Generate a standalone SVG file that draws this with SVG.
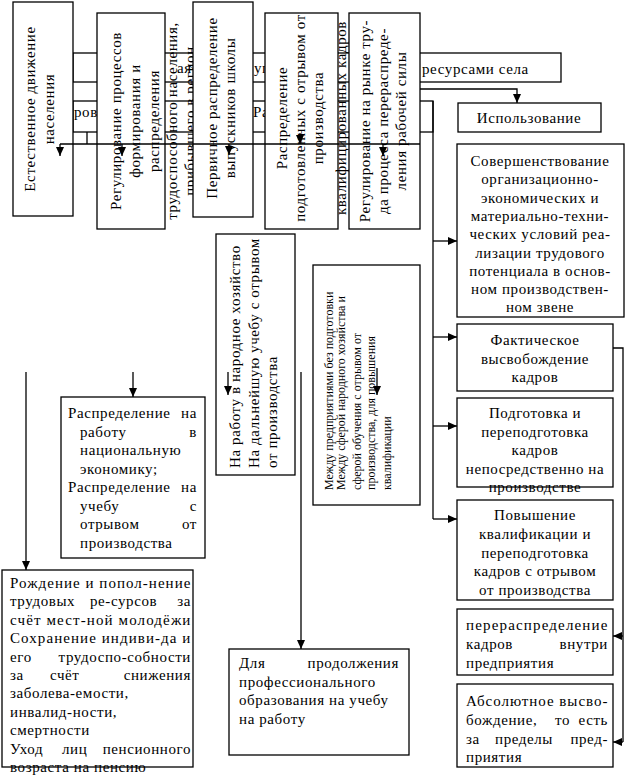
<svg xmlns="http://www.w3.org/2000/svg" width="626" height="779" viewBox="0 0 626 779">
<defs>
<style>
.b{fill:#fff;stroke:#000;stroke-width:1.3}
.t{font-family:"Liberation Serif","Times New Roman",serif;font-size:15px;letter-spacing:0.6px;fill:#000}
.s{font-family:"Liberation Serif","Times New Roman",serif;font-size:12px;fill:#000}
.m{text-anchor:middle}
.e{text-anchor:end}
.ln{fill:none;stroke:#000;stroke-width:1.3}
.a{marker-end:url(#ah)}
</style>
<marker id="ah" markerUnits="userSpaceOnUse" markerWidth="9" markerHeight="8" refX="9" refY="4" orient="auto"><path d="M0,0 L9,4 L0,8 Z" fill="#000"/></marker>
</defs>
<rect width="626" height="779" fill="#fff"/>

<g id="hidden-band-1">
<rect class="b" x="73" y="53" width="488" height="29"/>
<text class="t" x="177" y="73">ая</text>
<text class="t" x="254" y="73">уп</text>
<text class="t" x="422" y="74">ресурсами села</text>
</g>
<g id="hidden-band-2">
<rect class="b" x="73" y="101" width="360" height="31"/>
<text class="t" x="74" y="117">ров</text>
<text class="t" x="253" y="117">Ра</text>
</g>

<g id="n-estestvennoe">
<rect class="b" x="13" y="2" width="60" height="214"/>
<text class="t m" transform="translate(35,109) rotate(-90)">Естественное движение</text>
<text class="t m" transform="translate(54,109) rotate(-90)">населения</text>
</g>
<g id="n-regulirovanie">
<rect class="b" x="97" y="13" width="68" height="216"/>
<text class="t m" transform="translate(121,121) rotate(-90)">Регулирование процессов</text>
<text class="t m" transform="translate(140,121) rotate(-90)">формирования и</text>
<text class="t m" transform="translate(159,121) rotate(-90)">распределения</text>
<text class="t m" transform="translate(177,121) rotate(-90)">трудоспособного населения,</text>
<text class="t m" transform="translate(195,121) rotate(-90)">прибывшего в регион</text>
</g>
<g id="n-pervichnoe">
<rect class="b" x="193" y="2" width="60" height="215"/>
<text class="t m" transform="translate(217,108) rotate(-90)">Первичное распределение</text>
<text class="t m" transform="translate(235,108) rotate(-90)">выпускников школы</text>
</g>
<g id="n-raspredelenie-podg">
<rect class="b" x="265" y="13" width="73" height="216"/>
<text class="t m" transform="translate(287,118) rotate(-90)">Распределение</text>
<text class="t m" transform="translate(305,118) rotate(-90)">подготовленных с отрывом от</text>
<text class="t m" transform="translate(323,118) rotate(-90)">производства</text>
<text class="t m" transform="translate(346,118) rotate(-90)">квалифицированных кадров</text>
</g>
<g id="n-rynok">
<rect class="b" x="349" y="13" width="71" height="216"/>
<text class="t m" transform="translate(370,121) rotate(-90)">Регулирование на рынке тру-</text>
<text class="t m" transform="translate(388,121) rotate(-90)">да процесса перераспреде-</text>
<text class="t m" transform="translate(406,121) rotate(-90)">ления рабочей силы</text>
</g>

<g id="n-ispolzovanie">
<rect class="b" x="458" y="103" width="143" height="29"/>
<text class="t m" x="529" y="123">Использование</text>
</g>
<g id="n-sovershenstvovanie">
<rect class="b" x="457" y="144" width="167" height="173"/>
<text class="t m" x="540" y="166">Совершенствование</text>
<text class="t m" x="540" y="184.3">организационно-</text>
<text class="t m" x="540" y="202.6">экономических и</text>
<text class="t m" x="540" y="220.9">материально-техни-</text>
<text class="t m" x="540" y="239.2">ческих условий реа-</text>
<text class="t m" x="540" y="257.5">лизации трудового</text>
<text class="t m" x="540" y="275.8">потенциала в основ-</text>
<text class="t m" x="540" y="294.1">ном производствен-</text>
<text class="t m" x="540" y="312.4">ном звене</text>
</g>
<g id="n-fakticheskoe">
<rect class="b" x="457" y="324" width="156" height="67"/>
<text class="t m" x="535" y="345">Фактическое</text>
<text class="t m" x="535" y="363.5">высвобождение</text>
<text class="t m" x="535" y="382">кадров</text>
</g>
<g id="n-podgotovka">
<rect class="b" x="457" y="398" width="156" height="89"/>
<text class="t m" x="535" y="418">Подготовка и</text>
<text class="t m" x="535" y="436.5">переподготовка</text>
<text class="t m" x="535" y="455">кадров</text>
<text class="t m" x="535" y="473.5">непосредственно на</text>
<text class="t m" x="535" y="492">производстве</text>
</g>
<g id="n-povyshenie">
<rect class="b" x="457" y="500" width="156" height="100"/>
<text class="t m" x="535" y="520">Повышение</text>
<text class="t m" x="535" y="538.8">квалификации и</text>
<text class="t m" x="535" y="557.6">переподготовка</text>
<text class="t m" x="535" y="576.4">кадров с отрывом</text>
<text class="t m" x="535" y="595.2">от производства</text>
</g>
<g id="n-pereraspredelenie">
<rect class="b" x="457" y="609" width="156" height="66"/>
<text class="t" x="466" y="630" textLength="142" lengthAdjust="spacing">перераспределение</text>
<text class="t" x="466" y="649">кадров</text>
<text class="t e" x="608" y="649">внутри</text>
<text class="t" x="466" y="668">предприятия</text>
</g>
<g id="n-absolyutnoe">
<rect class="b" x="457" y="684" width="156" height="83"/>
<text class="t" x="466" y="706" textLength="142" lengthAdjust="spacing">Абсолютное высво-</text>
<text class="t" x="466" y="725">бождение,</text>
<text class="t" x="555" y="725">то</text>
<text class="t e" x="608" y="725">есть</text>
<text class="t" x="466" y="744">за</text>
<text class="t" x="495" y="744">пределы</text>
<text class="t e" x="608" y="744">пред-</text>
<text class="t" x="466" y="762">приятия</text>
</g>

<g id="n-na-rabotu">
<rect class="b" x="216" y="234" width="79" height="241"/>
<text class="t" transform="translate(240,468) rotate(-90)">На работу в народное хозяйство</text>
<text class="t" transform="translate(259,468) rotate(-90)">На дальнейшую учебу с отрывом</text>
<text class="t" transform="translate(277,468) rotate(-90)">от производства</text>
</g>
<g id="n-mezhdu">
<rect class="b" x="313" y="265" width="107" height="240"/>
<text class="s" transform="translate(333,490) rotate(-90)">Между предприятиями без подготовки</text>
<text class="s" transform="translate(345,490) rotate(-90)">Между сферой народного хозяйства и</text>
<text class="s" transform="translate(361,490) rotate(-90)">сферой обучения с отрывом от</text>
<text class="s" transform="translate(375,490) rotate(-90)">производства, для повышения</text>
<text class="s" transform="translate(391,490) rotate(-90)">квалификации</text>
</g>
<g id="n-raspredelenie-rabota">
<rect class="b" x="61" y="397" width="144" height="161"/>
<text class="t" x="68" y="418">Распределение</text><text class="t e" x="197" y="418">на</text>
<text class="t" x="80" y="436.5">работу</text><text class="t e" x="197" y="436.5">в</text>
<text class="t" x="80" y="455">национальную</text>
<text class="t" x="80" y="473.5">экономику;</text>
<text class="t" x="68" y="492">Распределение</text><text class="t e" x="197" y="492">на</text>
<text class="t" x="80" y="510.5">учебу</text><text class="t e" x="197" y="510.5">с</text>
<text class="t" x="80" y="529">отрывом</text><text class="t e" x="197" y="529">от</text>
<text class="t" x="80" y="547.5">производства</text>
</g>
<g id="n-rozhdenie">
<rect class="b" x="2" y="570" width="191" height="197"/>
<text class="t" x="10" y="588" textLength="181" lengthAdjust="spacing">Рождение и попол-нение</text>
<text class="t" x="10" y="606.4">трудовых</text><text class="t" x="90" y="606.4">ре-сурсов</text><text class="t e" x="191" y="606.4">за</text>
<text class="t" x="10" y="624.8" textLength="181" lengthAdjust="spacing">счёт мест-ной молодёжи</text>
<text class="t" x="10" y="643.2" textLength="181" lengthAdjust="spacing">Сохранение индиви-да и</text>
<text class="t" x="10" y="661.6">его</text><text class="t e" x="191" y="661.6">трудоспо-собности</text>
<text class="t" x="10" y="680">за</text><text class="t" x="50" y="680">счёт</text><text class="t e" x="191" y="680">снижения</text>
<text class="t" x="10" y="698.4">заболева-емости,</text>
<text class="t" x="10" y="716.8">инвалид-ности,</text>
<text class="t" x="10" y="735.2">смертности</text>
<text class="t" x="10" y="753.6">Уход</text><text class="t" x="62" y="753.6">лиц</text><text class="t e" x="191" y="753.6">пенсионного</text>
<text class="t" x="10" y="772">возраста на пенсию</text>
</g>
<g id="n-dlya">
<rect class="b" x="229" y="649" width="180" height="106"/>
<text class="t" x="239" y="668">Для</text><text class="t e" x="399" y="668">продолжения</text>
<text class="t" x="239" y="686.5">профессионального</text>
<text class="t" x="239" y="705">образования на учебу</text>
<text class="t" x="239" y="723.5">на работу</text>
</g>

<g id="connectors">
<path class="ln" d="M60,144 H420"/>
<path class="ln" d="M87,132 V144"/>
<path class="ln a" d="M60,144 V156"/>
<path class="ln a" d="M122,144 V156"/>
<path class="ln a" d="M229,144 V155"/>
<path class="ln a" d="M300,133 V144"/>
<path class="ln a" d="M383,144 V156"/>
<path class="ln a" d="M420,89 H517 V103"/>
<path class="ln" d="M433,101 V519"/>
<path class="ln a" d="M433,241 H457"/>
<path class="ln a" d="M433,337 H457"/>
<path class="ln a" d="M433,426 H457"/>
<path class="ln a" d="M433,519 H457"/>
<path class="ln" d="M613,348 H623 V742"/>
<path class="ln a" d="M623,636 H613"/>
<path class="ln a" d="M623,742 H613"/>
<path class="ln a" d="M26,372 V570"/>
<path class="ln a" d="M133,372 V397"/>
<path class="ln a" d="M228,372 V395"/>
<path class="ln a" d="M301,372 V649"/>
<path class="ln a" d="M377,368 V395"/>
</g>
</svg>
